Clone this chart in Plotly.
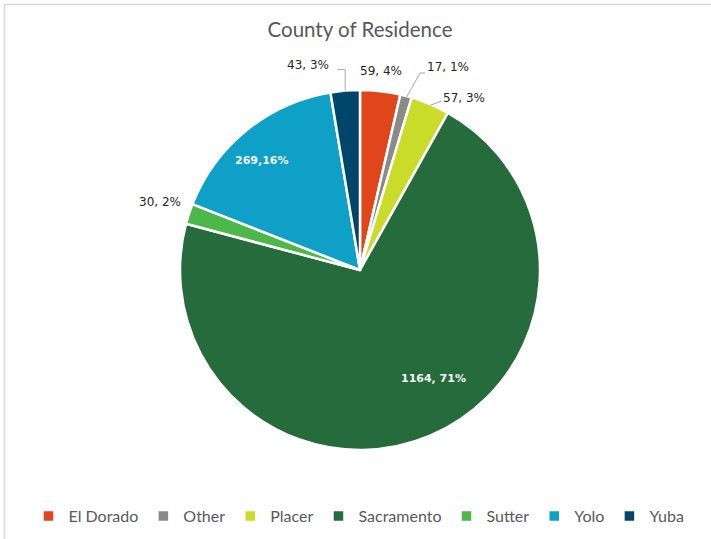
import math
import plotly.graph_objects as go

# County of residence counts
counties = ["El Dorado", "Other", "Placer", "Sacramento", "Sutter", "Yolo", "Yuba"]
counts = [59, 17, 57, 1164, 30, 269, 43]
colors = ["#E0461A", "#8A8A8A", "#CADB2A", "#256B3C", "#4DB84A", "#0EA0C6", "#00456A"]
separators = [", ", ", ", ", ", ", ", ", ", ",", ", "]

W, H = 711, 539
cx, cy, r = 360, 270, 180          # pie centre and radius in pixels

# data-label placement per slice
# inside labels: (radius fraction, angle nudge in degrees)
inside_place = {"Sacramento": (0.728, -11), "Yolo": (0.815, -3)}
# outside labels: label-centre offset from slice edge (px) and leader-line points (px)
outside_place = {
    "El Dorado": ((1, -20), None),
    "Other": ((42, -29), [(0, 2), (14, -23), (19, -23)]),
    "Placer": ((34, -6), [(0, 1), (11, -3)]),
    "Sutter": ((-29, -12), None),
    "Yuba": ((-37, -26), [(0, 0), (0, -21), (-8, -21)]),
}


def px(x, y):
    return x / W, 1 - y / H


fig = go.Figure(go.Pie(
    labels=counties,
    values=counts,
    sort=False,
    direction="clockwise",
    rotation=0,
    marker=dict(colors=colors, line=dict(color="white", width=2.5)),
    textinfo="none",
    domain=dict(x=[(cx - r) / W, (cx + r) / W], y=[(H - cy - r) / H, (H - cy + r) / H]),
    hoverinfo="label+value+percent",
))

total = sum(counts)
annotations, shapes = [], []
cum = 0
for name, v, sep in zip(counties, counts, separators):
    mid = (cum + v / 2) / total * 360
    cum += v
    text = f"{v}{sep}{round(100 * v / total)}%"
    if name in inside_place:
        frac, nudge = inside_place[name]
        a = math.radians(mid + nudge)
        lx, ly = cx + frac * r * math.sin(a), cy - frac * r * math.cos(a)
        x, y = px(lx, ly)
        annotations.append(dict(x=x, y=y, xref="paper", yref="paper", text=f"<b>{text}</b>",
                                xanchor="center", yanchor="middle", showarrow=False,
                                font=dict(family="DejaVu Sans", size=11, color="#F4F4F4")))
    else:
        a = math.radians(mid)
        ex, ey = cx + r * math.sin(a), cy - r * math.cos(a)
        (ox, oy), leader = outside_place[name]
        x, y = px(ex + ox, ey + oy)
        annotations.append(dict(x=x, y=y, xref="paper", yref="paper", text=text,
                                xanchor="center", yanchor="middle", showarrow=False,
                                font=dict(family="DejaVu Sans", size=12, color="#262626")))
        if leader:
            pts = [px(ex + dx, ey + dy) for dx, dy in leader]
            path = "M " + " L ".join(f"{p[0]:.5f},{p[1]:.5f}" for p in pts)
            shapes.append(dict(type="path", xref="paper", yref="paper", path=path,
                               line=dict(color="#A6A6A6", width=1)))

# light frame along the top and left edges
shapes += [
    dict(type="line", xref="paper", yref="paper", x0=4 / W, x1=1, y0=1 - 4.5 / H, y1=1 - 4.5 / H,
         line=dict(color="#D9D9D9", width=1.5)),
    dict(type="line", xref="paper", yref="paper", x0=4.5 / W, x1=4.5 / W, y0=0, y1=1 - 4 / H,
         line=dict(color="#D9D9D9", width=1.5)),
]

fig.update_layout(
    width=W, height=H,
    margin=dict(l=0, r=0, t=0, b=0),
    paper_bgcolor="white",
    title=dict(text="County of Residence", x=360 / W, xanchor="center",
               y=1 - 30 / H, yanchor="middle", yref="container",
               font=dict(family="Lato", size=20.5, color="#595959")),
    legend=dict(orientation="h", x=359 / W, xanchor="center", y=23 / H, yanchor="middle",
                font=dict(family="Lato", size=16, color="#595959"),
                itemwidth=30, traceorder="normal"),
    annotations=annotations,
    shapes=shapes,
)

fig.write_html("out.html")
